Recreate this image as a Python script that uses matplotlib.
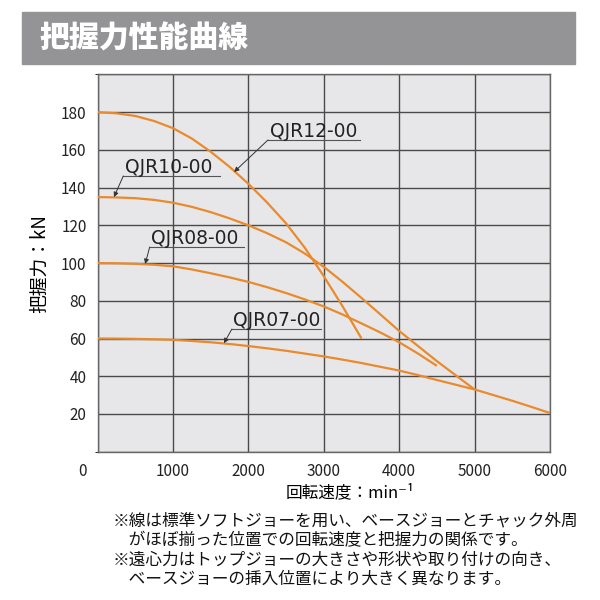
import matplotlib

matplotlib.use("Agg")
import matplotlib.pyplot as plt
from matplotlib.patches import Rectangle
from matplotlib.transforms import ScaledTranslation

# rotation speed (min-1) and grip force (kN)
speed_12 = [0, 250, 500, 750, 1000, 1250, 1500, 1750, 2000, 2250, 2500, 2750, 3000,
            3250, 3500]
force_12 = [180, 179.4, 178, 175.3, 171.5, 166, 159, 151, 142, 132, 121, 108, 93,
            77, 60]

speed_10 = [0, 250, 500, 750, 1000, 1250, 1500, 1750, 2000, 2250, 2500, 2750, 3000,
            3250, 3500, 3750, 4000, 4250, 4500, 4750, 5000]
force_10 = [135, 134.8, 134.4, 133.5, 132, 129.8, 127, 123.7, 120, 115.8, 111, 105, 98,
            90, 81.5, 72.8, 64, 56, 48, 40.5, 33]

speed_08 = [0, 250, 500, 750, 1000, 1250, 1500, 1750, 2000, 2250, 2500, 2750, 3000,
            3250, 3500, 3750, 4000, 4250, 4500]
force_08 = [100, 99.9, 99.6, 99.1, 98.3, 96.6, 94.6, 92.4, 90, 87.2, 84.1, 80.7, 77,
            72.7, 68, 63.2, 58, 52, 45.5]

speed_07 = [0, 250, 500, 750, 1000, 1250, 1500, 1750, 2000, 2250, 2500, 2750, 3000,
            3250, 3500, 3750, 4000, 4250, 4500, 4750, 5000, 5250, 5500, 5750, 6000]
force_07 = [60, 59.95, 59.8, 59.6, 59.3, 58.7, 58, 57.1, 56, 54.8, 53.5, 52, 50.5,
            48.8, 47, 45, 43, 40.6, 38, 35.5, 33, 30, 27, 23.8, 20.5]

names = ["QJR12-00", "QJR10-00", "QJR08-00", "QJR07-00"]
x_ticks = [0, 1000, 2000, 3000, 4000, 5000, 6000]
y_ticks = [20, 40, 60, 80, 100, 120, 140, 160, 180]

notes = [
    "※線は標準ソフトジョーを用い、ベースジョーとチャック外周",
    "　がほぼ揃った位置での回転速度と把握力の関係です。",
    "※遠心力はトップジョーの大きさや形状や取り付けの向き、",
    "　ベースジョーの挿入位置により大きく異なります。",
]

# label placement: underline start, underline end, underline height, arrow tip
label_pos = [
    (2260, 3480, 165.3, (1810, 148.3)),
    (340, 1620, 146.2, (216, 135)),
    (690, 1940, 108.5, (630, 99.5)),
    (1780, 2960, 65.0, (1675, 57.5)),
]

ORANGE = "#e98a2c"


def plot_it():
    plt.rcParams["font.family"] = ["Noto Sans CJK JP", "DejaVu Sans"]
    fig = plt.figure(figsize=(6, 6), dpi=100)

    # grey title bar
    fig.patches.append(
        Rectangle((0.037, 0.893), 0.921, 0.087, transform=fig.transFigure,
                  color="#949497", zorder=0)
    )
    fig.text(0.065, 0.937, "把握力性能曲線", color="white", fontsize=21.5,
             fontweight="black", va="center", ha="left")

    ax = fig.add_axes([0.1628, 0.2472, 0.7538, 0.6287])
    ax.set_facecolor("#e7e7e9")
    ax.set_xlim(0, 6000)
    ax.set_ylim(0, 200)
    ax.set_xticks(x_ticks)
    ax.set_yticks(y_ticks)
    ax.set_yticks([0, 200], minor=True)
    ax.grid(True, which="both", color="#4a4a4a", lw=1.0)
    ax.set_axisbelow(True)
    ax.tick_params(length=0, labelsize=11, colors="#222222", pad=8)
    for s in ax.spines.values():
        s.set_color("#666666")
        s.set_linewidth(1.0)

    # the "0" on the x axis sits left of the frame
    lab0 = ax.get_xticklabels()[0]
    lab0.set_transform(lab0.get_transform() + ScaledTranslation(-0.15, 0, fig.dpi_scale_trans))

    # curves
    for sp, fo in [(speed_12, force_12), (speed_10, force_10),
                   (speed_08, force_08), (speed_07, force_07)]:
        ax.plot(sp, fo, color=ORANGE, lw=1.6, solid_capstyle="butt",
                solid_joinstyle="round", zorder=3)

    # labels with underline and leader arrow
    for name, (x0, x1, yl, tip) in zip(names, label_pos):
        ax.plot([x0, x1], [yl, yl], color="#555555", lw=0.8, zorder=4)
        ax.text(x0 + 20, yl + 1.4, name, fontsize=13.5, color="#222222",
                family="DejaVu Sans", ha="left", va="baseline", zorder=4)
        ax.annotate("", xy=tip, xytext=(x0, yl),
                    arrowprops=dict(arrowstyle="-|>", lw=0.7, color="#333333",
                                    mutation_scale=7, shrinkA=0, shrinkB=0),
                    zorder=4)

    ax.set_ylabel("把握力：kN", fontsize=13.5, labelpad=8)
    fig.text(0.583, 0.178, "回転速度：min⁻¹", fontsize=12, ha="center", va="center")

    y = 0.132
    for line in notes:
        fig.text(0.187, y, line, fontsize=12, ha="left", va="center", color="#111111")
        y -= 0.0325

    fig.savefig("out.png", dpi=100)


def main():
    plot_it()


if __name__ == "__main__":
    main()
